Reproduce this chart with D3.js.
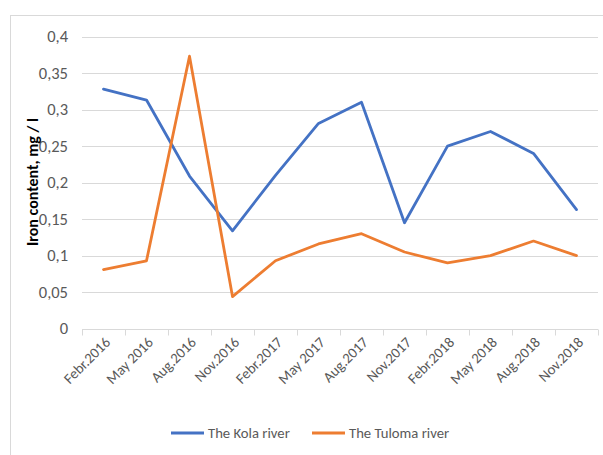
<!DOCTYPE html>
<html>
<head>
<meta charset="utf-8">
<script src="https://cdn.jsdelivr.net/npm/d3@7"></script>
<style>
  html, body { margin: 0; padding: 0; background: #fff; }
  svg { display: block; font-family: Carlito, Lato, "Open Sans", sans-serif; }
</style>
</head>
<body>
<svg id="chart" width="603" height="455"></svg>
<script>
// Sampling dates
const categories = ["Febr.2016", "May 2016", "Aug.2016", "Nov.2016", "Febr.2017", "May 2017",
                    "Aug.2017", "Nov.2017", "Febr.2018", "May 2018", "Aug.2018", "Nov.2018"];

// Iron content, mg / l
const kolaValues   = [0.328, 0.313, 0.209, 0.134, 0.21, 0.281, 0.31, 0.145, 0.25, 0.27, 0.24, 0.163];
const tulomaValues = [0.081, 0.093, 0.373, 0.044, 0.093, 0.116, 0.13, 0.105, 0.09, 0.1, 0.12, 0.1];

const yTicks = [0, 0.05, 0.1, 0.15, 0.2, 0.25, 0.3, 0.35, 0.4];
const yTickLabels = ["0", "0,05", "0,1", "0,15", "0,2", "0,25", "0,3", "0,35", "0,4"];

const series = [
  { name: "The Kola river",   values: kolaValues,   color: "#4472C4" },
  { name: "The Tuloma river", values: tulomaValues, color: "#ED7D31" }
];

const svg = d3.select("#chart");
const FS = 14.7;

// chart area frame
svg.append("rect")
  .attr("x", 10.5).attr("y", 15.5)
  .attr("width", 600).attr("height", 450)
  .attr("fill", "none").attr("stroke", "#d9d9d9").attr("stroke-width", 1);

const x = d3.scaleBand().domain(categories).range([82, 598]);
const y = d3.scaleLinear().domain([0, 0.4]).range([328.7, 36.5]);

// horizontal gridlines
svg.append("g")
  .selectAll("line")
  .data(yTicks.filter(d => d > 0))
  .join("line")
  .attr("x1", 82).attr("x2", 598)
  .attr("y1", d => Math.round(y(d)) + 0.5).attr("y2", d => Math.round(y(d)) + 0.5)
  .attr("stroke", "#d9d9d9").attr("stroke-width", 1);

// y axis labels
const yAxis = d3.axisLeft(y)
  .tickValues(yTicks)
  .tickFormat((d, i) => yTickLabels[i])
  .tickSize(0)
  .tickPadding(14);
const gy = svg.append("g").attr("transform", "translate(82,0)").call(yAxis);
gy.select(".domain").remove();
gy.selectAll("text")
  .attr("font-size", 16.5).attr("fill", "#595959")
  .attr("font-family", "Carlito, Lato, sans-serif");

// x axis with band boundary ticks
const gx = svg.append("g").attr("transform", `translate(0,${Math.round(y(0)) + 0.5})`);
gx.append("line")
  .attr("x1", 82).attr("x2", 598)
  .attr("stroke", "#d9d9d9");
const bounds = categories.map(c => x(c)).concat([x.range()[1]]);
gx.selectAll("line.tick")
  .data(bounds)
  .join("line")
  .attr("class", "tick")
  .attr("x1", d => Math.round(d) + 0.5).attr("x2", d => Math.round(d) + 0.5)
  .attr("y1", 0).attr("y2", 6)
  .attr("stroke", "#d9d9d9");
gx.selectAll("text")
  .data(categories)
  .join("text")
  .attr("transform", d => `translate(${x(d) + x.bandwidth() / 2 + 4},${10}) rotate(-45)`)
  .attr("text-anchor", "end")
  .attr("dy", "0.35em")
  .attr("font-size", FS).attr("fill", "#595959")
  .text(d => d);

// y axis title
svg.append("text")
  .attr("transform", "translate(38,182) rotate(-90)")
  .attr("text-anchor", "middle")
  .attr("font-size", 16).attr("font-weight", "bold").attr("fill", "#000")
  .text("Iron content, mg / l");

// series lines
const line = d3.line()
  .x((d, i) => x(categories[i]) + x.bandwidth() / 2)
  .y(d => y(d));

svg.append("g")
  .selectAll("path")
  .data(series)
  .join("path")
  .attr("d", d => line(d.values))
  .attr("fill", "none")
  .attr("stroke", d => d.color)
  .attr("stroke-width", 2.8)
  .attr("stroke-linejoin", "round")
  .attr("stroke-linecap", "round");

// legend
const legendX = [171, 312];
const lg = svg.append("g")
  .selectAll("g")
  .data(series)
  .join("g")
  .attr("transform", (d, i) => `translate(${legendX[i]},433)`);
lg.append("line")
  .attr("x1", 0).attr("x2", 33)
  .attr("stroke", d => d.color).attr("stroke-width", 2.8);
lg.append("text")
  .attr("x", 37).attr("dy", "0.35em")
  .attr("font-size", FS).attr("fill", "#595959")
  .text(d => d.name);
</script>
</body>
</html>
